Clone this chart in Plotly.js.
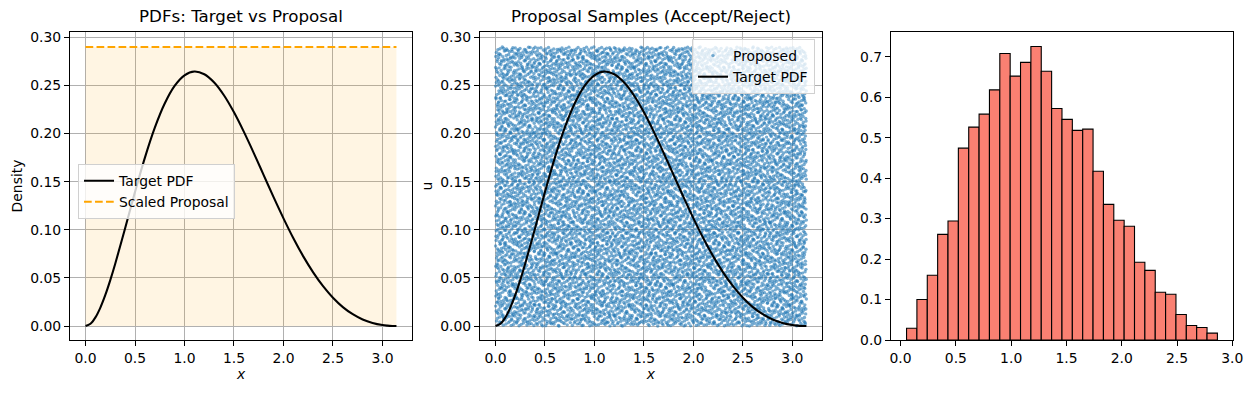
<!DOCTYPE html>
<html>
<head>
<meta charset="utf-8">
<script src="https://cdn.plot.ly/plotly-3.0.1.min.js"></script>
<style>html,body{margin:0;padding:0;background:#fff}#chart{width:1252px;height:393px}</style>
</head>
<body>
<div id="chart"></div>
<script>
// ---- data ----
const pdfX = [0, 0.05, 0.1, 0.15, 0.2, 0.25, 0.3, 0.4, 0.5, 0.6, 0.7, 0.8, 0.9, 1.0, 1.1, 1.2, 1.3, 1.4, 1.5, 1.6, 1.7, 1.8, 1.9, 2.0, 2.1, 2.2, 2.3, 2.4, 2.5, 2.6, 2.7, 2.8, 2.9, 3.0, 3.05, 3.1, 3.1416];
const pdfY = [0, 0.0024, 0.0090, 0.0192, 0.0323, 0.0477, 0.0647, 0.1017, 0.1394, 0.1750, 0.2061, 0.2312, 0.2495, 0.2605, 0.2644, 0.2616, 0.2530, 0.2395, 0.2220, 0.2017, 0.1797, 0.1568, 0.1339, 0.1119, 0.0912, 0.0724, 0.0558, 0.0414, 0.0294, 0.0197, 0.0123, 0.0068, 0.0032, 0.0010, 0.0004, 0.0001, 0];
const proposalX = [0, 3.1416];
const proposalY = [0.29, 0.29];
const histStart = 0.054;
const histWidth = 0.0937;
const histHeights = [0.029, 0.100, 0.160, 0.261, 0.294, 0.474, 0.526, 0.558, 0.618, 0.708,
                     0.652, 0.686, 0.725, 0.664, 0.572, 0.545, 0.518, 0.521, 0.417, 0.335,
                     0.296, 0.281, 0.192, 0.172, 0.118, 0.113, 0.063, 0.036, 0.031, 0.017];
const xTicks = [0, 0.5, 1.0, 1.5, 2.0, 2.5, 3.0];
const titles = ["PDFs: Target vs Proposal", "Proposal Samples (Accept/Reject)"];
const nProposed = 10000;

// Uniform proposal samples over [0, pi] x [0, 0.29], laid out with a
// deterministic low-discrepancy (Halton) sequence to show uniform coverage.
function halton(i, b) { let f = 1, r = 0; while (i > 0) { f /= b; r += f * (i % b); i = Math.floor(i / b); } return r; }
const propXs = [], propUs = [];
for (let i = 1; i <= nProposed; i++) {
  propXs.push(proposalX[0] + (proposalX[1] - proposalX[0]) * halton(i, 2));
  propUs.push(proposalY[0] * halton(i, 3));
}
const histCenters = histHeights.map((_, i) => histStart + histWidth * (i + 0.5));

const FONT = 'DejaVu Sans, sans-serif';
const tickFont = {family: FONT, size: 13.9, color: '#000'};
const LW = 2.08;

const traces = [
  {x: proposalX, y: proposalY, type: 'scatter', mode: 'lines', fill: 'tozeroy',
   fillcolor: 'rgba(255,165,0,0.11)', line: {width: 0, color: 'rgba(0,0,0,0)'},
   showlegend: false, hoverinfo: 'skip', xaxis: 'x', yaxis: 'y'},
  {x: pdfX, y: pdfY, type: 'scatter', mode: 'lines', name: 'Target PDF',
   line: {color: '#000', width: LW, shape: 'spline'}, xaxis: 'x', yaxis: 'y', legend: 'legend'},
  {x: proposalX, y: proposalY, type: 'scatter', mode: 'lines', name: 'Scaled Proposal',
   line: {color: 'rgb(255,165,0)', width: LW, dash: '7.7px,3.3px'}, xaxis: 'x', yaxis: 'y', legend: 'legend'},
  {x: propXs, y: propUs, type: 'scatter', mode: 'markers', name: 'Proposed',
   marker: {color: 'rgba(31,119,180,0.6)', size: 3.4, line: {width: 0}},
   xaxis: 'x2', yaxis: 'y2', legend: 'legend2'},
  {x: pdfX, y: pdfY, type: 'scatter', mode: 'lines', name: 'Target PDF',
   line: {color: '#000', width: LW, shape: 'spline'}, xaxis: 'x2', yaxis: 'y2', legend: 'legend2'},
  {x: histCenters, y: histHeights, type: 'bar', width: histWidth,
   marker: {color: '#fa8072', line: {color: '#000', width: 1.1}},
   showlegend: false, xaxis: 'x3', yaxis: 'y3'}
];

function ax(extra) {
  return Object.assign({
    showline: true, linecolor: '#000', linewidth: 1, mirror: true,
    ticks: 'outside', ticklen: 5, tickwidth: 1, tickcolor: '#000',
    tickfont: tickFont, zeroline: false, automargin: false,
    gridcolor: '#b0b0b0', gridwidth: 1
  }, extra);
}

const layout = {
  width: 1252, height: 393,
  margin: {l: 70, r: 19, t: 32, b: 53},
  paper_bgcolor: '#fff', plot_bgcolor: '#fff',
  font: {family: FONT, size: 13.9, color: '#000'},
  xaxis: ax({domain: [0, 0.2941], range: [-0.157, 3.299], tickvals: xTicks, tickformat: '.1f', showgrid: true,
             title: {text: '<i>x</i>', font: {family: FONT, size: 13.9}, standoff: 4}}),
  yaxis: ax({domain: [0, 1], range: [-0.0145, 0.3055], dtick: 0.05, tick0: 0, tickformat: '.2f', showgrid: true,
             title: {text: 'Density', font: {family: FONT, size: 13.9}, standoff: 4}}),
  xaxis2: ax({domain: [0.3525, 0.6466], range: [-0.157, 3.299], tickvals: xTicks, tickformat: '.1f', showgrid: true, anchor: 'y2',
             title: {text: '<i>x</i>', font: {family: FONT, size: 13.9}, standoff: 4}}),
  yaxis2: ax({domain: [0, 1], range: [-0.0145, 0.3055], dtick: 0.05, tick0: 0, tickformat: '.2f', showgrid: true, anchor: 'x2',
             title: {text: 'u', font: {family: FONT, size: 13.9}, standoff: 4}}),
  xaxis3: ax({domain: [0.7059, 1], range: [-0.087, 3.006], tickvals: xTicks, tickformat: '.1f', showgrid: false, anchor: 'y3'}),
  yaxis3: ax({domain: [0, 1], range: [0, 0.761], dtick: 0.1, tick0: 0, tickformat: '.1f', showgrid: false, anchor: 'x3'}),
  bargap: 0,
  legend: {x: 0.0069, y: 0.571, xanchor: 'left', yanchor: 'top', bgcolor: 'rgba(255,255,255,0.8)',
           bordercolor: '#d0d0d0', borderwidth: 1, font: {family: FONT, size: 13.9, color: '#000'}},
  legend2: {x: 0.6406, y: 0.977, xanchor: 'right', yanchor: 'top', bgcolor: 'rgba(255,255,255,0.8)',
           bordercolor: '#d0d0d0', borderwidth: 1, font: {family: FONT, size: 13.9, color: '#000'}},
  annotations: [
    {text: titles[0], xref: 'x domain', yref: 'y domain', x: 0.5, y: 1, xanchor: 'center', yanchor: 'bottom',
     yshift: 4, showarrow: false, font: {family: FONT, size: 16.7, color: '#000'}},
    {text: titles[1], xref: 'x2 domain', yref: 'y2 domain', x: 0.5, y: 1, xanchor: 'center', yanchor: 'bottom',
     yshift: 4, showarrow: false, font: {family: FONT, size: 16.7, color: '#000'}}
  ]
};

Plotly.newPlot('chart', traces, layout, {staticPlot: true, displayModeBar: false});
</script>
</body>
</html>
